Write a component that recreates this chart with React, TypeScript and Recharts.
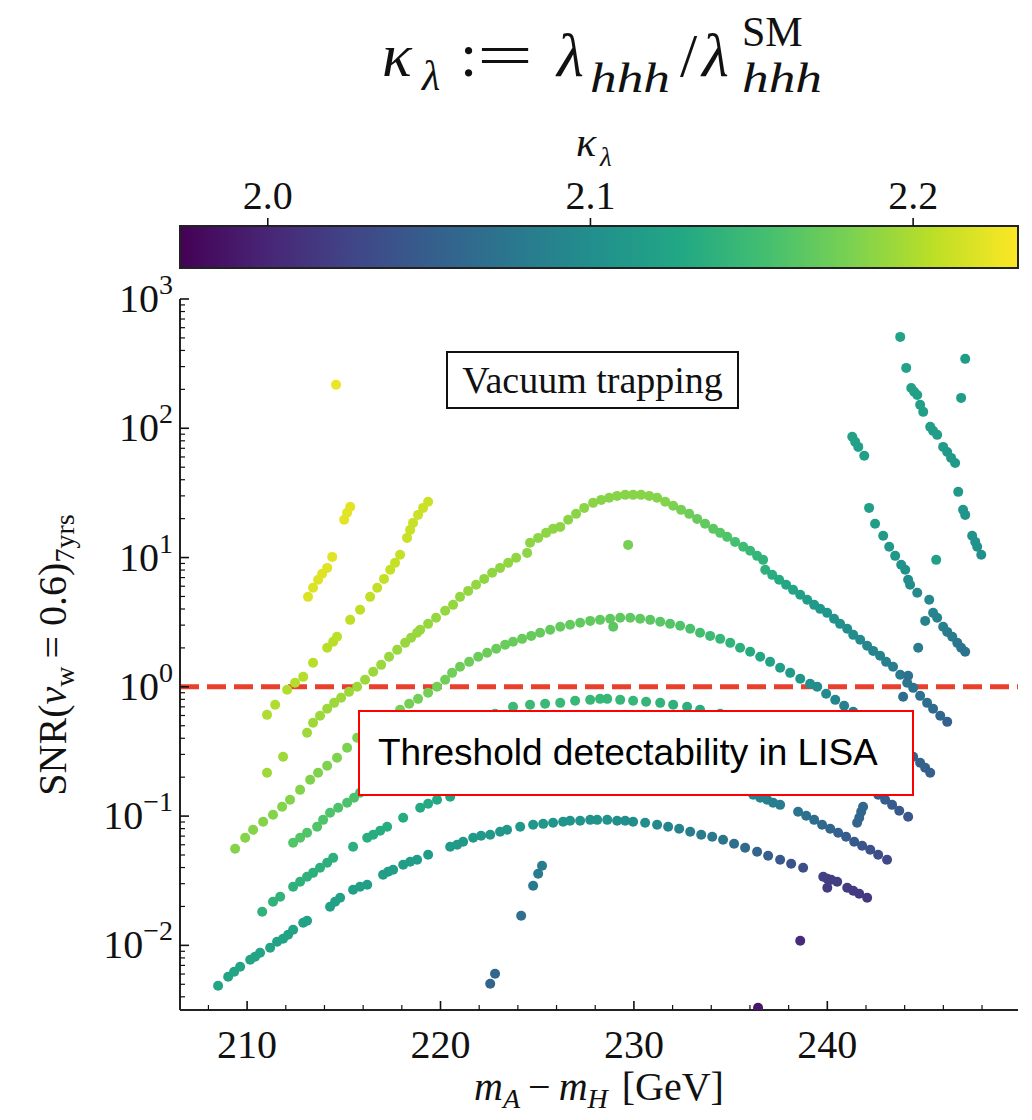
import React from 'react'
import { ScatterChart, Scatter, XAxis, YAxis, ReferenceLine } from 'recharts'

const SERIF = "'Liberation Serif', 'Times New Roman', serif"
const SANS = "'Liberation Sans', Arial, sans-serif"
const INK = '#111'

// colour scale range for kappa_lambda
const K_MIN = 1.9728
const K_MAX = 2.2325
const VIRIDIS = ['#440154', '#482475', '#414487', '#355f8d', '#2a788e', '#21918c', '#22a884', '#44bf70', '#7ad151', '#bddf26', '#fde725']

const xMajor = [210, 220, 230, 240]
const xTicks = [208, 210, 212, 214, 216, 218, 220, 222, 224, 226, 228, 230, 232, 234, 236, 238, 240, 242, 244, 246, 248]
const yMajor = [0.01, 0.1, 1, 10, 100, 1000]
const yDecades = [0.001, 0.01, 0.1, 1, 10, 100]
const yMinorMult = [2, 3, 4, 5, 6, 7, 8, 9]
const cbTicks = [2.0, 2.1, 2.2]
const cbLabels = ['2.0', '2.1', '2.2']

// points: [mA - mH (GeV), log10 SNR, kappa_lambda]
const yellowDot = [[214.6, 2.336, 2.225]]

const yellowRun = [
  [213.15, 0.696, 2.219], [213.41, 0.766, 2.219], [213.67, 0.828, 2.22], [213.88, 0.874, 2.22],
  [214.14, 0.92, 2.22], [214.4, 1.005, 2.221], [215.02, 1.292, 2.222], [215.17, 1.346, 2.222],
  [215.33, 1.392, 2.222],
]

const limeRun = [
  [211.03, -0.217, 2.201], [211.45, -0.139, 2.201], [212.07, -0.023, 2.202], [212.48, 0.031, 2.203],
  [212.9, 0.077, 2.203], [213.41, 0.186, 2.204], [214.14, 0.302, 2.205], [214.45, 0.348, 2.205],
  [214.65, 0.387, 2.206], [215.33, 0.518, 2.207], [215.84, 0.596, 2.207], [216.36, 0.696, 2.208],
  [216.73, 0.766, 2.209], [217.08, 0.835, 2.209], [217.4, 0.905, 2.21], [217.65, 0.959, 2.21],
  [217.91, 1.021, 2.21], [218.27, 1.152, 2.211], [218.43, 1.214, 2.211], [218.58, 1.268, 2.211],
  [218.84, 1.33, 2.212], [219.1, 1.384, 2.212], [219.36, 1.431, 2.212],
]

const arc1 = [
  [211.03, -0.665, 2.195], [211.86, -0.541, 2.195], [213.1, -0.356, 2.195], [213.41, -0.278, 2.195],
  [213.77, -0.224, 2.194], [214.14, -0.17, 2.194], [214.5, -0.124, 2.194], [214.86, -0.085, 2.194],
  [215.27, -0.039, 2.194], [215.69, 0.0, 2.194], [216.1, 0.054, 2.193], [216.52, 0.116, 2.193],
  [216.93, 0.17, 2.193], [217.34, 0.232, 2.192], [217.76, 0.286, 2.192], [218.17, 0.34, 2.192],
  [218.48, 0.379, 2.192], [218.79, 0.418, 2.192], [218.95, 0.441, 2.192], [219.36, 0.487, 2.191],
  [219.77, 0.534, 2.191], [220.24, 0.588, 2.191], [220.65, 0.634, 2.191], [221.01, 0.696, 2.19],
  [221.43, 0.742, 2.19], [221.84, 0.789, 2.19], [222.26, 0.835, 2.189], [222.67, 0.882, 2.189],
  [223.08, 0.92, 2.189], [223.5, 0.959, 2.189], [223.91, 0.998, 2.189], [224.48, 1.036, 2.188],
  [224.63, 1.114, 2.188], [225.05, 1.152, 2.188], [225.46, 1.191, 2.188], [225.82, 1.222, 2.188],
  [226.19, 1.237, 2.187], [226.6, 1.292, 2.187], [227.01, 1.338, 2.187], [227.43, 1.384, 2.187],
  [227.89, 1.423, 2.187], [228.31, 1.446, 2.186], [228.72, 1.462, 2.186], [229.13, 1.477, 2.186],
  [229.55, 1.485, 2.186], [229.96, 1.485, 2.186], [230.37, 1.485, 2.186], [230.79, 1.477, 2.186],
  [231.2, 1.462, 2.185], [231.62, 1.431, 2.184], [232.03, 1.4, 2.181], [232.44, 1.369, 2.178],
  [232.86, 1.338, 2.175], [233.27, 1.299, 2.172], [233.68, 1.261, 2.169], [234.1, 1.222, 2.166],
  [234.46, 1.191, 2.163], [234.82, 1.16, 2.16], [235.23, 1.121, 2.155], [235.65, 1.083, 2.151],
  [236.01, 1.052, 2.147], [236.37, 1.013, 2.143], [236.68, 0.982, 2.14], [236.79, 0.905, 2.139],
  [237.15, 0.866, 2.135], [237.51, 0.828, 2.131], [237.87, 0.789, 2.128], [238.23, 0.75, 2.124],
  [238.6, 0.712, 2.12], [238.96, 0.673, 2.117], [239.32, 0.634, 2.113], [239.63, 0.603, 2.111],
  [239.99, 0.572, 2.108], [240.35, 0.526, 2.105], [240.66, 0.487, 2.103], [241.03, 0.449, 2.1],
  [241.34, 0.402, 2.098], [241.7, 0.364, 2.095], [242.06, 0.317, 2.092], [242.37, 0.278, 2.09],
  [242.73, 0.24, 2.087], [243.04, 0.193, 2.085], [243.4, 0.155, 2.082], [243.77, 0.093, 2.079],
  [244.13, 0.031, 2.076], [244.44, -0.008, 2.073], [244.8, -0.07, 2.07], [245.16, -0.124, 2.066],
  [245.47, -0.17, 2.063], [245.84, -0.224, 2.059], [246.2, -0.271, 2.053],
]

const arc2 = [
  [209.38, -1.253, 2.185], [209.9, -1.168, 2.185], [210.31, -1.106, 2.185], [210.83, -1.044, 2.185],
  [211.34, -0.99, 2.184], [211.81, -0.928, 2.184], [212.22, -0.874, 2.184], [212.74, -0.797, 2.184],
  [213.26, -0.719, 2.183], [213.67, -0.665, 2.183], [214.14, -0.611, 2.182], [214.65, -0.549, 2.182],
  [215.17, -0.472, 2.181], [215.69, -0.394, 2.181], [216.0, -0.356, 2.18], [216.46, -0.309, 2.18],
  [216.93, -0.263, 2.18], [217.39, -0.224, 2.179], [217.91, -0.178, 2.179], [218.38, -0.131, 2.178],
  [218.84, -0.093, 2.178], [219.36, -0.046, 2.177], [219.82, 0.0, 2.177], [220.24, 0.054, 2.176],
  [220.6, 0.108, 2.176], [221.01, 0.155, 2.175], [221.48, 0.193, 2.175], [221.95, 0.232, 2.174],
  [222.41, 0.263, 2.174], [222.88, 0.294, 2.173], [223.34, 0.325, 2.173], [223.75, 0.348, 2.172],
  [224.22, 0.371, 2.172], [224.69, 0.394, 2.171], [225.15, 0.418, 2.171], [225.67, 0.441, 2.17],
  [226.19, 0.464, 2.17], [226.7, 0.48, 2.17], [227.22, 0.495, 2.169], [227.74, 0.51, 2.169],
  [228.25, 0.518, 2.169], [228.77, 0.526, 2.168], [229.29, 0.534, 2.168], [229.81, 0.534, 2.168],
  [230.32, 0.526, 2.167], [230.84, 0.518, 2.166], [231.36, 0.503, 2.164], [231.87, 0.487, 2.162],
  [232.39, 0.472, 2.16], [232.91, 0.449, 2.157], [233.42, 0.418, 2.153], [233.94, 0.394, 2.149],
  [234.46, 0.371, 2.145], [234.98, 0.34, 2.141], [235.49, 0.302, 2.137], [236.01, 0.271, 2.132],
  [236.53, 0.232, 2.127], [237.04, 0.193, 2.122], [237.56, 0.147, 2.117], [238.08, 0.108, 2.113],
  [238.6, 0.062, 2.108], [239.11, 0.023, 2.103], [239.48, 0.0, 2.099], [239.94, -0.054, 2.095],
  [240.41, -0.101, 2.09], [240.87, -0.147, 2.086], [241.34, -0.193, 2.082], [242.11, -0.278, 2.075],
  [242.89, -0.371, 2.068], [243.66, -0.456, 2.062], [244.44, -0.541, 2.057], [244.8, -0.588, 2.055],
  [245.06, -0.626, 2.053], [245.32, -0.665, 2.051],
]

const arc3 = [
  [212.38, -1.206, 2.162], [212.74, -1.168, 2.162], [213.1, -1.129, 2.161], [213.62, -1.083, 2.161],
  [213.93, -1.029, 2.16], [214.29, -0.974, 2.16], [214.71, -0.936, 2.159], [215.17, -0.897, 2.159],
  [215.53, -0.858, 2.158], [215.84, -0.82, 2.158], [216.62, -0.742, 2.157], [217.39, -0.665, 2.156],
  [218.17, -0.588, 2.155], [218.95, -0.51, 2.154], [219.72, -0.441, 2.153], [220.5, -0.379, 2.152],
  [221.27, -0.317, 2.151], [222.05, -0.263, 2.15], [222.82, -0.209, 2.149], [223.75, -0.155, 2.148],
  [224.63, -0.139, 2.148], [225.41, -0.131, 2.147], [226.19, -0.124, 2.147], [226.96, -0.108, 2.146],
  [227.74, -0.101, 2.146], [228.25, -0.093, 2.146], [228.62, -0.093, 2.145], [229.29, -0.101, 2.145],
  [229.96, -0.108, 2.144], [230.63, -0.116, 2.143], [231.36, -0.124, 2.141], [232.03, -0.139, 2.139],
  [232.75, -0.155, 2.137], [233.42, -0.178, 2.134], [234.46, -0.209, 2.127], [235.49, -0.255, 2.118],
  [236.53, -0.309, 2.108], [237.56, -0.371, 2.097], [238.6, -0.449, 2.087], [239.63, -0.526, 2.077],
  [240.66, -0.626, 2.067], [241.7, -0.735, 2.058], [242.63, -0.835, 2.051], [242.99, -0.874, 2.049],
  [243.35, -0.913, 2.047], [243.72, -0.959, 2.045], [244.18, -1.005, 2.043],
]

const arc4 = [
  [210.78, -1.74, 2.14], [211.34, -1.663, 2.14], [211.71, -1.624, 2.14], [212.38, -1.547, 2.139],
  [212.74, -1.508, 2.139], [213.1, -1.469, 2.139], [213.41, -1.439, 2.138], [213.77, -1.4, 2.138],
  [214.14, -1.361, 2.137], [214.45, -1.323, 2.137], [215.48, -1.237, 2.136], [216.21, -1.168, 2.135],
  [216.52, -1.145, 2.134], [216.88, -1.114, 2.134], [217.24, -1.083, 2.133], [218.07, -1.013, 2.132],
  [218.95, -0.936, 2.13], [219.36, -0.905, 2.13], [219.82, -0.874, 2.129], [220.5, -0.851, 2.128],
  [222.05, -0.781, 2.126], [223.6, -0.719, 2.123], [225.15, -0.681, 2.12], [226.7, -0.657, 2.117],
  [228.25, -0.65, 2.114], [229.81, -0.657, 2.111], [231.36, -0.681, 2.107], [232.91, -0.719, 2.103],
  [234.46, -0.773, 2.097], [236.17, -0.835, 2.09], [236.53, -0.858, 2.088], [236.89, -0.874, 2.086],
  [237.2, -0.897, 2.084], [237.56, -0.913, 2.081], [238.49, -0.967, 2.073], [238.91, -0.998, 2.069],
  [239.32, -1.029, 2.065], [239.73, -1.067, 2.061], [240.15, -1.098, 2.057], [240.56, -1.129, 2.053],
  [240.97, -1.16, 2.049], [241.39, -1.199, 2.045], [241.8, -1.23, 2.041], [242.22, -1.261, 2.037],
  [242.63, -1.299, 2.034], [243.09, -1.338, 2.03],
]

const arc5 = [
  [208.5, -2.312, 2.125], [209.02, -2.243, 2.125], [209.33, -2.204, 2.125], [209.64, -2.166, 2.125],
  [210.16, -2.111, 2.124], [210.41, -2.088, 2.124], [210.67, -2.057, 2.124], [211.19, -2.019, 2.124],
  [211.55, -1.972, 2.123], [211.86, -1.949, 2.123], [212.12, -1.918, 2.123], [212.38, -1.879, 2.122],
  [212.9, -1.825, 2.122], [213.1, -1.81, 2.122], [214.29, -1.701, 2.121], [214.55, -1.663, 2.121],
  [214.81, -1.632, 2.121], [215.48, -1.57, 2.12], [215.84, -1.547, 2.119], [216.21, -1.531, 2.118],
  [217.03, -1.454, 2.118], [217.29, -1.431, 2.117], [217.55, -1.415, 2.117], [218.07, -1.377, 2.116],
  [218.43, -1.353, 2.116], [218.79, -1.338, 2.115], [219.36, -1.299, 2.115], [220.5, -1.237, 2.114],
  [220.86, -1.222, 2.113], [221.17, -1.199, 2.113], [221.69, -1.168, 2.112], [222.1, -1.152, 2.112],
  [222.57, -1.145, 2.111], [223.08, -1.121, 2.111], [223.44, -1.106, 2.11], [224.12, -1.083, 2.11],
  [224.79, -1.067, 2.109], [225.31, -1.06, 2.108], [225.82, -1.052, 2.108], [226.34, -1.044, 2.107],
  [226.7, -1.036, 2.106], [227.22, -1.036, 2.106], [227.74, -1.029, 2.105], [228.1, -1.029, 2.105],
  [228.62, -1.029, 2.104], [229.13, -1.036, 2.102], [229.55, -1.036, 2.101], [229.96, -1.044, 2.1],
  [230.58, -1.052, 2.097], [231.2, -1.067, 2.094], [231.77, -1.083, 2.09], [232.34, -1.098, 2.087],
  [232.91, -1.121, 2.084], [233.48, -1.145, 2.08], [234.05, -1.16, 2.076], [234.61, -1.183, 2.072],
  [235.18, -1.214, 2.067], [235.75, -1.245, 2.062], [236.37, -1.276, 2.056], [236.94, -1.307, 2.051],
  [237.56, -1.338, 2.045], [238.13, -1.369, 2.04], [238.75, -1.4, 2.035],
]

const midCluster = [
  [225.25, -1.384, 2.082], [225.05, -1.446, 2.08], [224.79, -1.539, 2.077], [224.17, -1.771, 2.068],
  [222.82, -2.22, 2.058], [222.57, -2.297, 2.056],
]

const blueStub = [[241.54, -1.052, 2.058], [241.65, -1.013, 2.058], [241.75, -0.967, 2.059], [241.85, -0.928, 2.059]]

const purpleCluster = [
  [239.79, -1.469, 2.022], [240.0, -1.485, 2.021], [240.2, -1.493, 2.02], [240.51, -1.508, 2.02],
  [240.0, -1.555, 2.018], [241.03, -1.555, 2.018], [241.34, -1.578, 2.017], [241.65, -1.601, 2.016],
  [242.06, -1.632, 2.015], [238.6, -1.964, 2.004], [236.42, -2.483, 1.99],
]

const rightColA = [
  [243.77, 2.707, 2.123], [244.08, 2.467, 2.122], [244.34, 2.312, 2.121], [244.49, 2.282, 2.121],
  [244.65, 2.258, 2.12], [244.8, 2.181, 2.119], [244.96, 2.127, 2.119], [245.32, 2.011, 2.118],
  [245.47, 1.98, 2.117], [245.68, 1.949, 2.116], [245.99, 1.856, 2.115], [246.2, 1.817, 2.114],
  [246.4, 1.771, 2.113], [246.61, 1.732, 2.112], [246.77, 1.508, 2.11], [247.02, 1.369, 2.108],
  [247.13, 1.33, 2.107], [247.49, 1.168, 2.105], [247.65, 1.121, 2.104], [247.75, 1.083, 2.103],
  [247.96, 1.021, 2.102],
]

const rightColB = [
  [241.29, 1.934, 2.121], [241.44, 1.895, 2.121], [241.6, 1.856, 2.12], [241.91, 1.787, 2.12],
  [242.16, 1.384, 2.118], [242.47, 1.261, 2.116], [242.89, 1.168, 2.113], [243.2, 1.083, 2.111],
  [243.51, 1.013, 2.108], [243.82, 0.944, 2.105], [244.03, 0.905, 2.103], [244.18, 0.828, 2.1],
  [244.28, 0.789, 2.098], [244.65, 0.727, 2.095], [245.27, 0.673, 2.095], [245.47, 0.572, 2.09],
  [245.68, 0.534, 2.088], [245.99, 0.464, 2.085], [246.2, 0.425, 2.083], [246.46, 0.387, 2.08],
  [246.72, 0.34, 2.077], [246.92, 0.302, 2.074], [247.13, 0.271, 2.071],
]

const loosePoints = [
  [229.7, 1.098, 2.178], [228.93, 0.464, 2.166], [247.13, 2.537, 2.115], [246.92, 2.235, 2.115],
  [245.63, 0.982, 2.118], [245.06, 0.51, 2.088], [244.7, 0.302, 2.08], [244.18, 0.085, 2.068],
  [243.92, -0.077, 2.065],
]

const groups = [yellowDot, yellowRun, limeRun, arc1, arc2, arc3, arc4, arc5, midCluster, blueStub, purpleCluster, rightColA, rightColB, loosePoints]
const points = groups.flat().map(([x, l, k]) => ({ x, snr: 10 ** l, k }))

const Y_MIN = 10 ** -2.5
const Y_MAX = 1000
const yTicks = [...yMajor, ...yDecades.flatMap((d) => yMinorMult.map((m) => m * d))].filter((v) => v >= Y_MIN && v <= Y_MAX)

function hex(c: string) {
  return [1, 3, 5].map((i) => parseInt(c.slice(i, i + 2), 16))
}

function viridis(k: number) {
  const t = Math.min(1, Math.max(0, (k - K_MIN) / (K_MAX - K_MIN))) * (VIRIDIS.length - 1)
  const i = Math.min(VIRIDIS.length - 2, Math.floor(t))
  const f = t - i
  const a = hex(VIRIDIS[i])
  const b = hex(VIRIDIS[i + 1])
  const c = a.map((v, j) => Math.round(v + (b[j] - v) * f))
  return `rgb(${c[0]},${c[1]},${c[2]})`
}

const isMajorY = (v: number) => yMajor.some((m) => Math.abs(m - v) / m < 1e-9)

function BottomTick(p: any) {
  const v = p.payload.value
  const major = xMajor.includes(v)
  return (
    <g>
      <line x1={p.x} x2={p.x} y1={p.y} y2={p.y - (major ? 9 : 5)} stroke={INK} strokeWidth={major ? 1.6 : 1.2} />
      {major && (
        <text x={p.x} y={p.y + 48} textAnchor="middle" fontFamily={SERIF} fontSize={40} fill={INK}>
          {v}
        </text>
      )}
    </g>
  )
}

function TopTick(p: any) {
  const major = xMajor.includes(p.payload.value)
  return <line x1={p.x} x2={p.x} y1={p.y} y2={p.y + (major ? 9 : 5)} stroke={INK} strokeWidth={major ? 1.6 : 1.2} />
}

function LeftTick(p: any) {
  const v = p.payload.value
  const major = isMajorY(v)
  const e = Math.round(Math.log10(v))
  return (
    <g>
      <line x1={p.x} x2={p.x + (major ? 9 : 5)} y1={p.y} y2={p.y} stroke={INK} strokeWidth={major ? 1.6 : 1.2} />
      {major && (
        <text x={p.x - 7} y={p.y + 13} textAnchor="end" fontFamily={SERIF} fontSize={40} fill={INK}>
          10
          <tspan fontSize={28} dy={-18}>
            {e < 0 ? '\u2212' + Math.abs(e) : String(e)}
          </tspan>
        </text>
      )}
    </g>
  )
}

function RightTick(p: any) {
  const major = isMajorY(p.payload.value)
  return <line x1={p.x} x2={p.x - (major ? 9 : 5)} y1={p.y} y2={p.y} stroke={INK} strokeWidth={major ? 1.6 : 1.2} />
}

const Dot = (p: any) => <circle cx={p.cx} cy={p.cy} r={5} fill={viridis(p.payload.k)} />

const frame = { stroke: '#222', strokeWidth: 2 }
const X_DOMAIN: [number, number] = [206.53, 249.86]

// overlay geometry
const PL = 180
const PR = 1018
const CB_TOP = 226
const CB_BOTTOM = 268
const cbX = (k: number) => PL + ((k - K_MIN) / (K_MAX - K_MIN)) * (PR - PL)

function Overlay() {
  return (
    <svg width={1032} height={1120} style={{ position: 'absolute', left: 0, top: 0, pointerEvents: 'none' }}>
      <defs>
        <linearGradient id="vir" x1="0" x2="1" y1="0" y2="0">
          {VIRIDIS.map((c, i) => (
            <stop key={i} offset={i / (VIRIDIS.length - 1)} stopColor={c} />
          ))}
        </linearGradient>
      </defs>

      {/* title */}
      <g fontFamily={SERIF} fill={INK}>
        <text x={382} y={76} fontSize={62} fontStyle="italic">κ</text>
        <text x={422} y={90} fontSize={42} fontStyle="italic">λ</text>
        <text x={460} y={76} fontSize={62}>:</text>
        <text x={477} y={76} fontSize={62} textLength={56} lengthAdjust="spacingAndGlyphs">=</text>
        <text x={557} y={76} fontSize={62} fontStyle="italic">λ</text>
        <text x={590} y={92} fontSize={42} fontStyle="italic" textLength={80} lengthAdjust="spacingAndGlyphs">hhh</text>
        <text x={680} y={76} fontSize={62}>/</text>
        <text x={702} y={76} fontSize={62} fontStyle="italic">λ</text>
        <text x={742} y={46} fontSize={42}>SM</text>
        <text x={742} y={92} fontSize={42} fontStyle="italic" textLength={80} lengthAdjust="spacingAndGlyphs">hhh</text>
      </g>

      {/* colour bar */}
      <text x={576} y={156} fontFamily={SERIF} fontSize={42} fontStyle="italic" fill={INK}>κ</text>
      <text x={600} y={166} fontFamily={SERIF} fontSize={27} fontStyle="italic" fill={INK}>λ</text>
      <rect x={PL} y={CB_TOP} width={PR - PL} height={CB_BOTTOM - CB_TOP} fill="url(#vir)" stroke="#222" strokeWidth={2} />
      {cbTicks.map((k, i) => (
        <g key={k}>
          <line x1={cbX(k)} x2={cbX(k)} y1={CB_TOP} y2={CB_TOP - 8} stroke={INK} strokeWidth={1.6} />
          <text x={cbX(k)} y={209} textAnchor="middle" fontFamily={SERIF} fontSize={40} fill={INK}>
            {cbLabels[i]}
          </text>
        </g>
      ))}

      {/* axis titles */}
      <g transform="translate(66,655) rotate(-90)">
        <text textAnchor="middle" fontFamily={SERIF} fontSize={40} fill={INK}>
          SNR(<tspan fontStyle="italic">v</tspan>
          <tspan fontSize={28} dy={8}>w</tspan>
          <tspan dy={-8} dx={8}>= 0.6)</tspan>
          <tspan fontSize={28} dy={8}>7yrs</tspan>
        </text>
      </g>
      <text x={599} y={1100} textAnchor="middle" fontFamily={SERIF} fontSize={40} fill={INK}>
        <tspan fontStyle="italic">m</tspan>
        <tspan fontSize={28} dy={8} fontStyle="italic">A</tspan>
        <tspan dy={-8} dx={8}>−</tspan>
        <tspan dx={8} fontStyle="italic">m</tspan>
        <tspan fontSize={28} dy={8} fontStyle="italic">H</tspan>
        <tspan dy={-8} dx={14}>[GeV]</tspan>
      </text>

      {/* annotations */}
      <rect x={447} y={352} width={291} height={56} fill="#fff" stroke={INK} strokeWidth={2} />
      <text x={592.5} y={393} textAnchor="middle" fontFamily={SERIF} fontSize={38} fill={INK}>
        Vacuum trapping
      </text>
      <rect x={359} y={711} width={554} height={84} fill="#fff" stroke="#ff0000" strokeWidth={2} />
      <text x={378} y={765} fontFamily={SANS} fontSize={37} fill="#000">
        Threshold detectability in LISA
      </text>
    </svg>
  )
}

export default function App() {
  return (
    <div style={{ position: 'absolute', left: 0, top: 0, width: 1032, height: 1120, background: '#fff' }}>
      <ScatterChart width={1032} height={1120} margin={{ top: 299, right: 14, bottom: 50, left: 100 }}>
        <XAxis
          xAxisId="b"
          type="number"
          dataKey="x"
          domain={X_DOMAIN}
          allowDataOverflow
          ticks={xTicks}
          interval={0}
          height={60}
          tickSize={0}
          tickMargin={0}
          tickLine={false}
          axisLine={frame}
          tick={BottomTick}
        />
        <XAxis
          xAxisId="t"
          orientation="top"
          type="number"
          dataKey="x"
          domain={X_DOMAIN}
          allowDataOverflow
          ticks={xTicks}
          interval={0}
          height={0}
          tickSize={0}
          tickMargin={0}
          tickLine={false}
          axisLine={frame}
          tick={TopTick}
        />
        <YAxis
          yAxisId="l"
          type="number"
          dataKey="snr"
          scale="log"
          domain={[Y_MIN, Y_MAX]}
          allowDataOverflow
          ticks={yTicks}
          interval={0}
          width={80}
          tickSize={0}
          tickMargin={0}
          tickLine={false}
          axisLine={frame}
          tick={LeftTick}
        />
        <YAxis
          yAxisId="r"
          orientation="right"
          type="number"
          dataKey="snr"
          scale="log"
          domain={[Y_MIN, Y_MAX]}
          allowDataOverflow
          ticks={yTicks}
          interval={0}
          width={0}
          tickSize={0}
          tickMargin={0}
          tickLine={false}
          axisLine={frame}
          tick={RightTick}
        />
        <Scatter xAxisId="b" yAxisId="l" data={points} shape={Dot} isAnimationActive={false} />
        <Scatter xAxisId="t" yAxisId="r" data={[]} isAnimationActive={false} />
        <ReferenceLine xAxisId="b" yAxisId="l" y={1} stroke="#e8402c" strokeWidth={5} strokeDasharray="19 8" />
      </ScatterChart>
      <Overlay />
    </div>
  )
}
